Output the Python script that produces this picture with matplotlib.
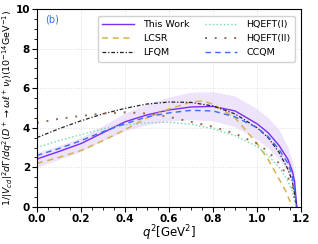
import numpy as np
import matplotlib
matplotlib.use('Agg')
import matplotlib.pyplot as plt
from matplotlib.ticker import MultipleLocator

# q^2 points (GeV^2)
q_this = [0, 0.1, 0.2, 0.3, 0.4, 0.5, 0.6, 0.7, 0.8, 0.9, 1.0, 1.05, 1.1, 1.14, 1.16, 1.17, 1.18]
this_work = [2.42, 2.8, 3.2, 3.75, 4.3, 4.65, 4.9, 5.05, 5.08, 4.85, 4.2, 3.75, 3.1, 2.4, 1.8, 1.3, 0.0]
band_up = [2.75, 3.1, 3.5, 4.1, 4.75, 5.2, 5.55, 5.8, 5.82, 5.6, 4.95, 4.5, 3.9, 3.0, 2.3, 1.7, 0.0]
band_lo = [2.0, 2.4, 2.8, 3.35, 3.85, 4.15, 4.35, 4.4, 4.35, 4.05, 3.4, 3.0, 2.4, 1.8, 1.3, 0.9, 0.0]

q_lcsr = [0, 0.1, 0.2, 0.3, 0.4, 0.5, 0.6, 0.7, 0.75, 0.8, 0.9, 1.0, 1.05, 1.1, 1.13, 1.16]
lcsr = [2.2, 2.5, 2.85, 3.35, 3.9, 4.5, 4.95, 5.3, 5.35, 5.2, 4.5, 3.2, 2.4, 1.4, 0.8, 0.0]

q_std = [0, 0.1, 0.2, 0.3, 0.4, 0.5, 0.6, 0.7, 0.8, 0.9, 1.0, 1.05, 1.1, 1.14, 1.16, 1.18]
lfqm = [3.5, 3.95, 4.35, 4.7, 4.98, 5.2, 5.3, 5.28, 5.1, 4.7, 4.0, 3.5, 2.75, 1.9, 1.3, 0.0]
hqeft2 = [4.25, 4.45, 4.6, 4.72, 4.78, 4.72, 4.55, 4.3, 4.05, 3.7, 3.2, 2.8, 2.2, 1.5, 1.0, 0.0]
ccqm = [2.6, 2.95, 3.35, 3.8, 4.2, 4.55, 4.75, 4.88, 4.85, 4.55, 4.0, 3.55, 2.9, 2.2, 1.6, 0.0]

q_hq1 = [0, 0.1, 0.2, 0.3, 0.4, 0.5, 0.6, 0.7, 0.8, 0.9, 1.0, 1.05, 1.1, 1.14, 1.16, 1.175]
hqeft1 = [3.0, 3.35, 3.65, 3.95, 4.15, 4.25, 4.28, 4.18, 3.95, 3.6, 3.05, 2.6, 2.0, 1.3, 0.8, 0.0]

fig = plt.figure(figsize=(3.18, 2.44), dpi=100)
ax = fig.add_axes([0.116, 0.152, 0.831, 0.811])

ax.fill_between(q_this, band_lo, band_up, color='#ede3fb', linewidth=0)
ax.plot(q_this, this_work, color='#7b2cf5', lw=1.0, label='This Work')
ax.plot(q_lcsr, lcsr, color='#d4b44a', lw=1.1, dashes=(4, 3), label='LCSR')
ax.plot(q_std, lfqm, color='#222222', lw=0.9, dashes=(3, 1.5, 1, 1.5), label='LFQM')
ax.plot(q_hq1, hqeft1, color='#6fdcaa', lw=1.0, linestyle=':', label='HQEFT(I)')
ax.plot(q_std, hqeft2, color='#9b6a48', lw=1.4, dashes=(1, 4), label='HQEFT(II)')
ax.plot(q_std, ccqm, color='#3a6cf6', lw=1.0, dashes=(4, 3), label='CCQM')

ax.set_xlim(0, 1.2)
ax.set_ylim(0, 10)
ax.xaxis.set_major_locator(MultipleLocator(0.2))
ax.xaxis.set_minor_locator(MultipleLocator(0.05))
ax.yaxis.set_major_locator(MultipleLocator(2))
ax.yaxis.set_minor_locator(MultipleLocator(0.5))
ax.tick_params(which='both', direction='out', labelsize=7.5, pad=1.5)
for lab in ax.get_xticklabels() + ax.get_yticklabels():
    lab.set_fontweight('bold')
ax.grid(True, linestyle=':', color='#dddddd', lw=0.7)

ax.set_xlabel(r'$q^2$[GeV$^2$]', fontsize=8.5, labelpad=0)
ax.set_ylabel(r'$1/|V_{cd}|^2d\Gamma/dq^2(D^+\to\omega\ell^+\nu_\ell)(10^{-14}$GeV$^{-1})$',
              fontsize=6.8, labelpad=0)
ax.text(0.03, 0.97, '(b)', transform=ax.transAxes, color='#3a6cf6', fontsize=7, va='top')

ax.legend(ncol=2, fontsize=6.8, loc='upper right', handlelength=3.4, columnspacing=1.6,
          labelspacing=0.55, borderpad=0.45, handletextpad=1.0, framealpha=0.9,
          bbox_to_anchor=(0.995, 0.99))

fig.savefig('out.png', dpi=100)
